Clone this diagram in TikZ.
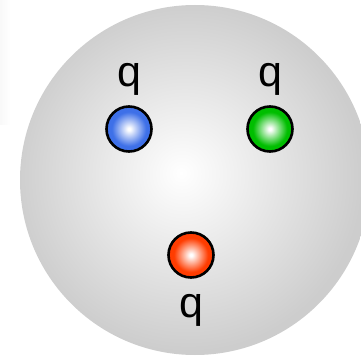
\documentclass[tikz,border=0pt]{standalone}
\usepackage{fontspec}
\setmainfont{Liberation Sans}
\usetikzlibrary{positioning}
\definecolor{quarkblue}{RGB}{62, 112, 232}
\definecolor{quarkgreen}{RGB}{0, 190, 0}
\definecolor{quarkred}{RGB}{255, 60, 0}
\definecolor{bagedge}{RGB}{205, 205, 205}
\pgfdeclareradialshading{bagshade}{\pgfpoint{-2bp}{1bp}}{color(0bp)=(white); color(25bp)=(bagedge); color(50bp)=(bagedge)}
\pgfdeclareradialshading{blueshade}{\pgfpoint{0bp}{0bp}}{color(0bp)=(white); color(1.5bp)=(white); color(19bp)=(quarkblue); color(50bp)=(quarkblue)}
\pgfdeclareradialshading{greenshade}{\pgfpoint{0bp}{0bp}}{color(0bp)=(white); color(1.5bp)=(white); color(19bp)=(quarkgreen); color(50bp)=(quarkgreen)}
\pgfdeclareradialshading{redshade}{\pgfpoint{0bp}{0bp}}{color(0bp)=(white); color(1.5bp)=(white); color(19bp)=(quarkred); color(50bp)=(quarkred)}

\begin{document}
\begin{tikzpicture}[
      x=1pt, y=-1pt,
      quark/.style={circle, draw=black, line width=2.6pt, minimum size=45pt, inner sep=0pt},
      charge/.style={inner sep=0pt, font=\fontsize{43}{45}\selectfont}
    ]
      \useasboundingbox (0,0) rectangle (361,358);
      \clip (0,0) rectangle (361,358);
      % faint strip at the left edge
      \shade[left color=gray!5, right color=white] (0,0) rectangle (10,125);
      % the bag
      \node[circle, minimum size=350pt, inner sep=0pt, shading=bagshade] (bag) at (195,180) {};
      % quarks
      \node[quark, shading=blueshade] (qblue) at (129,129) {};
      \node[quark, shading=greenshade] (qgreen) at (270,129) {};
      \node[quark, shading=redshade] (qred) at (191,255) {};
      \node[charge, above=10pt of qblue] (lblue) {q};
      \node[charge, above=10pt of qgreen] (lgreen) {q};
      \node[charge, below=15pt of qred] (lred) {q};
    \end{tikzpicture}
\end{document}
